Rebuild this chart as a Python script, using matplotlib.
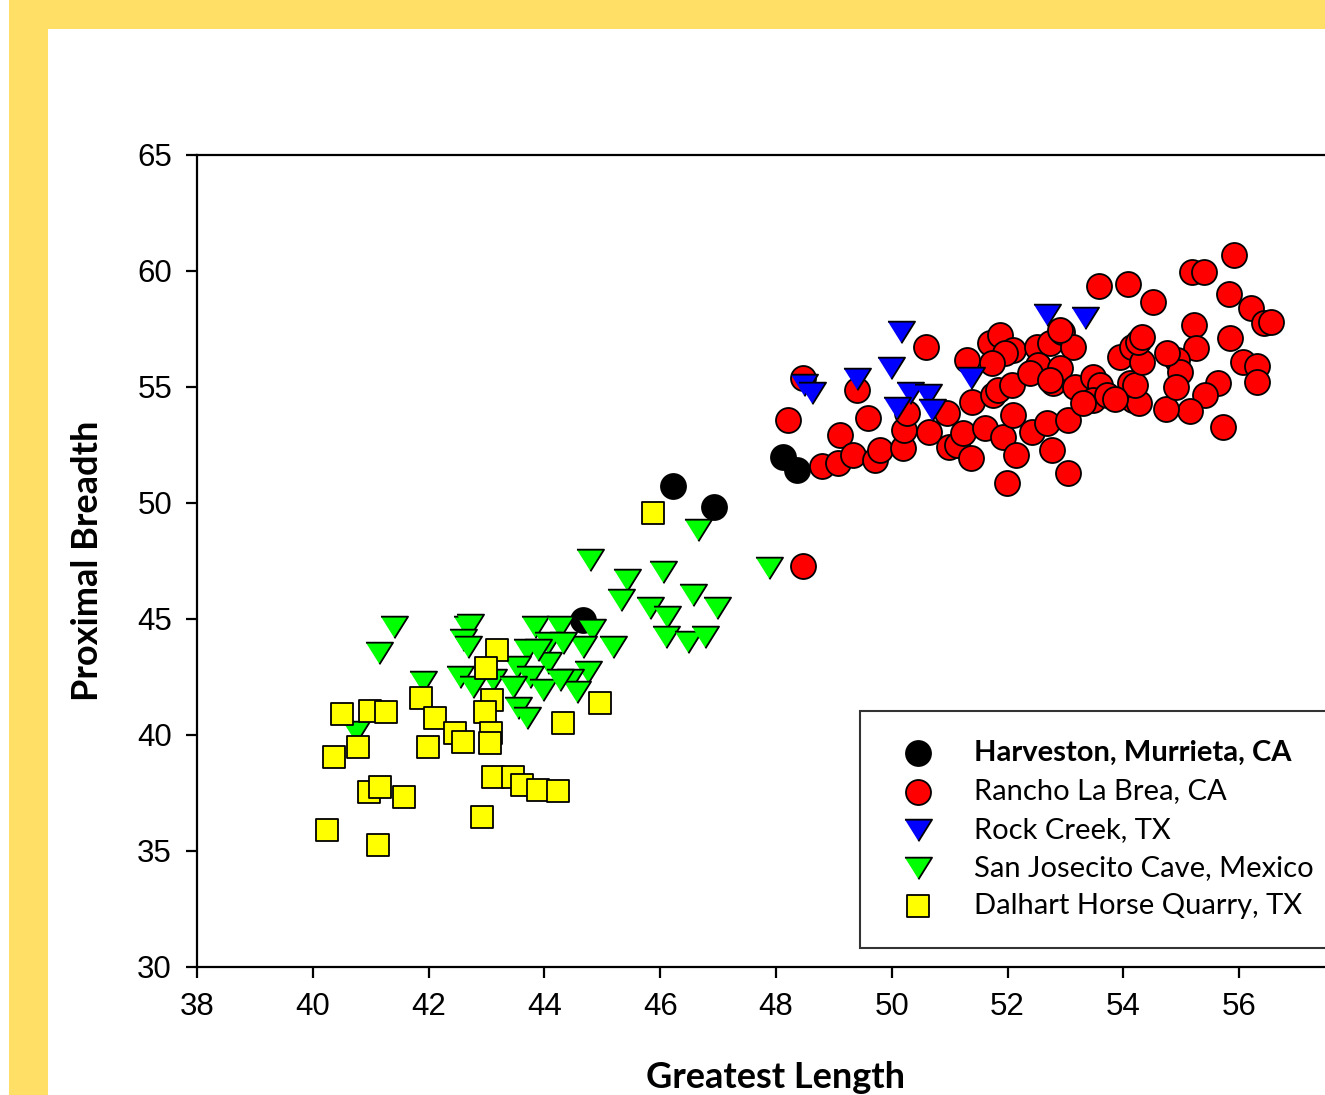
import matplotlib
matplotlib.use("Agg")
import matplotlib.pyplot as plt
import matplotlib.patches as patches

# Harveston, Murrieta, CA
harv_x = [48.12, 48.36, 46.22, 46.93, 44.67]
harv_y = [51.98, 51.42, 50.75, 49.83, 44.96]

# Rancho La Brea, CA
rlb_x = [48.47, 48.21, 50.59, 49.40, 49.59, 49.11, 48.79, 49.07, 49.33, 49.71,
         49.80, 50.19, 50.21, 50.26, 50.64, 50.95, 51.30, 51.39, 50.99, 51.13,
         51.23, 51.37, 51.61, 51.92, 51.99, 52.15, 52.09, 51.75, 51.83, 51.70,
         51.87, 52.09, 51.96, 51.73, 52.08, 52.42, 52.77, 52.68, 53.04, 53.04,
         52.51, 52.73, 52.53, 52.79, 52.39, 52.94, 53.13, 52.91, 52.73, 53.16,
         53.48, 53.60, 53.48, 53.72, 53.94, 54.15, 54.11, 54.17, 53.58, 54.08,
         54.51, 55.18, 55.39, 55.91, 55.82, 56.20, 56.43, 56.55, 55.22, 55.25,
         55.84, 56.07, 56.31, 56.31, 55.63, 55.41, 55.72, 55.15, 54.74, 54.27,
         54.20, 54.32, 54.25, 54.32, 54.93, 54.98, 54.91, 54.75, 52.91, 48.47,
         53.30, 53.85]
rlb_y = [55.39, 53.58, 56.72, 54.87, 53.66, 52.93, 51.59, 51.72, 52.07, 51.85,
         52.28, 52.37, 53.15, 53.88, 53.06, 53.88, 56.16, 54.35, 52.41, 52.50,
         53.02, 51.94, 53.23, 52.84, 50.86, 52.07, 53.79, 54.66, 54.87, 56.90,
         57.24, 56.59, 56.47, 56.03, 55.09, 53.06, 52.28, 53.45, 53.58, 51.29,
         56.72, 56.90, 55.95, 55.17, 55.60, 57.37, 56.72, 55.82, 55.30, 55.00,
         55.43, 55.09, 54.44, 54.66, 56.29, 56.72, 55.17, 54.44, 59.35, 59.44,
         58.66, 59.96, 59.96, 60.69, 59.01, 58.41, 57.76, 57.80, 57.67, 56.68,
         57.11, 56.08, 55.91, 55.22, 55.17, 54.66, 53.28, 53.97, 54.05, 54.31,
         55.09, 56.08, 56.94, 57.16, 56.16, 55.65, 55.00, 56.47, 57.46, 47.28,
         54.30, 54.50]

# Rock Creek, TX
rc_x = [50.16, 48.48, 48.62, 49.40, 49.99, 50.31, 50.63, 50.09, 50.69, 51.37, 52.68, 53.34]
rc_y = [57.37, 55.09, 54.74, 55.34, 55.82, 54.74, 54.66, 54.10, 54.00, 55.39, 58.10, 57.97]

# San Josecito Cave, Mexico
sj_x = [44.78, 45.42, 45.32, 41.40, 41.14, 42.66, 42.72, 42.60, 42.68, 42.54,
        42.77, 43.11, 43.84, 44.27, 44.82, 45.18, 43.70, 44.06, 44.67, 43.53,
        44.06, 44.75, 43.75, 44.44, 43.46, 43.98, 44.56, 43.55, 43.70, 41.90,
        40.75, 43.89, 44.32, 44.27, 46.05, 46.65, 47.88, 45.82, 46.12, 46.57,
        46.98, 46.10, 46.48, 46.77]
sj_y = [47.54, 46.68, 45.82, 44.66, 43.53, 44.66, 44.76, 44.10, 43.80, 42.50,
        42.07, 42.37, 44.66, 44.66, 44.53, 43.79, 43.66, 43.97, 43.80, 42.93,
        43.10, 42.70, 42.50, 42.37, 42.07, 41.94, 41.85, 41.16, 40.73, 42.28,
        40.13, 43.66, 43.97, 42.37, 47.03, 48.84, 47.20, 45.47, 45.09, 46.03,
        45.47, 44.22, 44.00, 44.22]

# Dalhart Horse Quarry, TX
dh_x = [40.50, 40.99, 41.26, 41.87, 42.11, 43.18, 42.99, 43.09, 42.97, 43.08,
        43.06, 42.46, 42.60, 41.99, 40.78, 40.37, 40.97, 41.16, 41.58, 43.11,
        43.46, 43.61, 43.89, 44.23, 42.92, 40.25, 41.13, 44.32, 44.96, 45.88]
dh_y = [40.91, 41.03, 40.99, 41.59, 40.73, 43.66, 42.89, 41.51, 40.99, 40.09,
        39.66, 40.09, 39.70, 39.48, 39.48, 39.05, 37.54, 37.76, 37.33, 38.19,
        38.19, 37.84, 37.63, 37.59, 36.47, 35.91, 35.26, 40.52, 41.38, 49.57]

labels = ["Harveston, Murrieta, CA", "Rancho La Brea, CA", "Rock Creek, TX",
          "San Josecito Cave, Mexico", "Dalhart Horse Quarry, TX"]

tri = [(-1, 0.8), (1, 0.8), (0, -0.8)]

fig = plt.figure(figsize=(13.25, 10.95), dpi=100, facecolor='white')

# Marco amarillo
fig.patches.append(patches.Rectangle((9 / 1325, 1 - 29 / 1095), 1, 29 / 1095,
                                     transform=fig.transFigure, facecolor='#FFDF66', edgecolor='none', zorder=0))
fig.patches.append(patches.Rectangle((9 / 1325, 0), 39 / 1325, 1,
                                     transform=fig.transFigure, facecolor='#FFDF66', edgecolor='none', zorder=0))

ax = fig.add_axes([197 / 1325, 128 / 1095, 1158 / 1325, 812 / 1095])

kw = dict(edgecolor='black', linewidths=1.3, zorder=3)
ax.scatter(harv_x, harv_y, s=324, marker='o', color='black', label=labels[0], **kw)
ax.scatter(rlb_x, rlb_y, s=324, marker='o', color='#FF0000', label=labels[1], **kw)
ax.scatter(rc_x, rc_y, s=380, marker=tri, color='#0000FF', label=labels[2], **kw)
ax.scatter(sj_x, sj_y, s=380, marker=tri, color='#00FF00', label=labels[3], **kw)
ax.scatter(dh_x, dh_y, s=272, marker='s', color='#FFFF00', label=labels[4], **kw)

ax.set_xlim(38, 58)
ax.set_ylim(30, 65)
ax.set_xticks(range(38, 58, 2))
ax.set_yticks(range(30, 66, 5))

for s in ['top', 'bottom', 'left']:
    ax.spines[s].set_linewidth(1.6)
ax.spines['right'].set_visible(False)
ax.tick_params(direction='out', length=8, width=1.6, labelsize=22.5, pad=10)
for t in ax.get_xticklabels() + ax.get_yticklabels():
    t.set_fontfamily('Liberation Sans')

ax.set_xlabel('Greatest Length', fontsize=26, fontweight='bold', fontfamily='Lato', labelpad=28)
ax.set_ylabel('Proximal Breadth', fontsize=26, fontweight='bold', fontfamily='Lato', labelpad=24)

leg = ax.legend(loc='upper left', bbox_to_anchor=(0.5725, 0.3153, 0.6, 0.0), mode='expand',
                borderaxespad=0, fancybox=False, frameon=True, scatterpoints=1,
                prop={'family': 'Lato', 'size': 21}, borderpad=1.0, labelspacing=0.42,
                handlelength=2.0, handletextpad=0.92)
leg.get_frame().set_edgecolor('black')
leg.get_frame().set_linewidth(1.5)
leg.get_texts()[0].set_fontweight('bold')

plt.savefig('out.png', dpi=100, facecolor=fig.get_facecolor())
plt.close(fig)
